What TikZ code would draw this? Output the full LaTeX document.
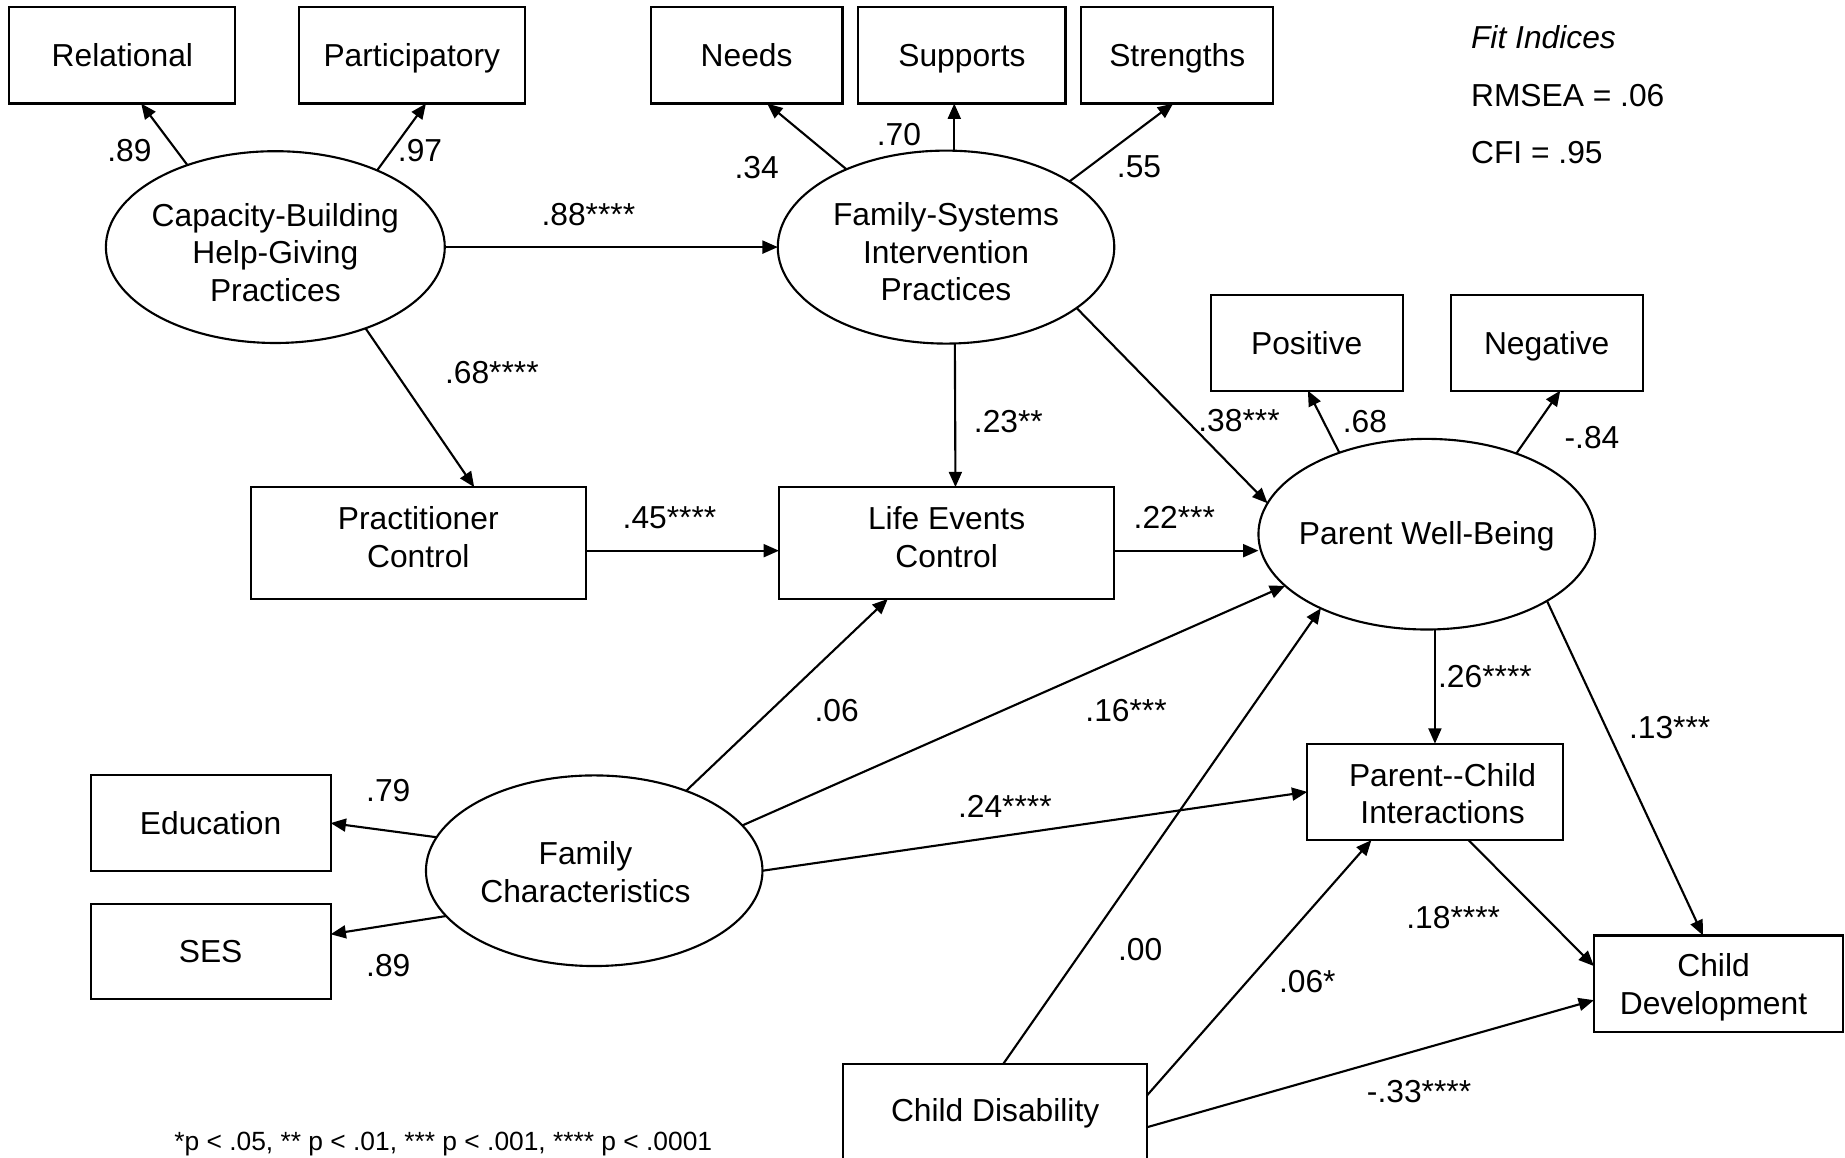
\documentclass[tikz,border=0pt]{standalone}
\usepackage{fontspec}
\setmainfont{Liberation Sans}
\usetikzlibrary{arrows.meta,shapes.geometric}
\begin{document}
\begin{tikzpicture}[x=1pt,y=-1pt,
  every node/.style={font=\fontsize{27}{32}\selectfont},
  obs/.style={draw, line width=1.8pt, rectangle, inner sep=0pt, outer sep=0pt, align=center},
  ind/.style={obs, text height=19.5pt, text depth=0pt},
  lat/.style={draw, line width=1.8pt, ellipse, inner sep=0pt, outer sep=0pt},
  arr/.style={line width=1.8pt, -{Triangle[length=13pt,width=11pt]}},
  coef/.style={inner sep=0pt},
  fit/.style={inner sep=0pt, anchor=west},
]
\useasboundingbox (0,0) rectangle (1568,984);

% indicator boxes
\node[ind, minimum width=192pt, minimum height=82pt] (rel) at (104,47) {Relational};
\node[ind, minimum width=192pt, minimum height=82pt] (par) at (350,47) {Participatory};
\node[ind, minimum width=163pt, minimum height=82pt] (needs) at (634.5,47) {Needs};
\node[ind, minimum width=176pt, minimum height=82pt] (sup) at (817.5,47) {Supports};
\node[ind, minimum width=163pt, minimum height=82pt] (str) at (1000.5,47) {Strengths};
\node[ind, minimum width=163pt, minimum height=81pt] (pos) at (1110.5,291.5) {Positive};
\node[ind, minimum width=163pt, minimum height=81pt] (neg) at (1314.5,291.5) {Negative};
\node[ind, minimum width=204pt, minimum height=81pt] (edu) at (179,699.5) {Education};
\node[ind, minimum width=204pt, minimum height=81pt] (ses) at (179,808.5) {SES};

% latent variables
\node[lat, minimum width=288pt, minimum height=163pt,
  label={[align=center, yshift=-4.5pt]center:Capacity-Building\\Help-Giving\\Practices}] (cap) at (234,210) {};
\node[lat, minimum width=286pt, minimum height=164pt,
  label={[align=center, yshift=-4pt]center:Family-Systems\\Intervention\\Practices}] (fs) at (804,210) {};
\node[lat, minimum width=286pt, minimum height=162pt,
  label={[text height=19.5pt, text depth=0pt, yshift=1pt]center:Parent Well-Being}] (pwb) at (1212.5,454) {};
\node[lat, minimum width=286pt, minimum height=162pt,
  label={[align=center, xshift=-7.5pt, yshift=-1pt]center:Family\\Characteristics}] (fc) at (505,740) {};

% other observed variables
\node[obs, minimum width=285pt, minimum height=95pt,
  label={[align=center, yshift=5pt]center:Practitioner\\Control}] (pc) at (355.5,461.5) {};
\node[obs, minimum width=285pt, minimum height=95pt,
  label={[align=center, yshift=5pt]center:Life Events\\Control}] (le) at (804.5,461.5) {};
\node[obs, minimum width=217pt, minimum height=82pt,
  label={[align=center, xshift=6.5pt, yshift=-1.5pt]center:Parent-{}-Child\\Interactions}] (pci) at (1219.5,673) {};
\node[obs, minimum width=211.4pt, minimum height=82pt,
  label={[align=center, xshift=-4pt, yshift=-3pt]center:Child\\Development}] (cdev) at (1460.3,836) {};
\node[obs, minimum width=258pt, minimum height=86pt,
  label={[text height=19.5pt, text depth=0pt, yshift=4pt]center:Child Disability}] (cd) at (845.75,947) {};

% connectors
\draw[arr] (cap.137.7) -- ([xshift=16pt]rel.south);
\draw[arr] (cap.37.5) -- ([xshift=12pt]par.south);
\draw[arr] (cap.east) -- (fs.west);
\draw[arr] (cap.-42.7) -- ([xshift=47.5pt]pc.north);
\draw[arr] (fs.142.6) -- ([xshift=17.5pt]needs.south);
\draw[arr] ([xshift=7pt]fs.north) -- ([xshift=-6.5pt]sup.south);
\draw[arr] (fs.28.3) -- ([xshift=-3.5pt]str.south);
\draw[arr] ([xshift=7.5pt]fs.south) -- ([xshift=7.5pt]le.north);
\draw[arr] (fs.-25.2) -- (pwb.169);
\draw[arr] ([yshift=-6.5pt]pc.east) -- ([yshift=-6.5pt]pc.east -| le.west);
\draw[arr] ([yshift=-6.5pt]le.east) -- ([yshift=-6.5pt]le.east -| pwb.west);
\draw[arr] (pwb.137.5) -- ([xshift=1pt]pos.south);
\draw[arr] (pwb.42.6) -- ([xshift=11.5pt]neg.south);
\draw[arr] ([xshift=7pt]pwb.south) -- (pci.north);
\draw[arr] (pwb.-29.5) -- ([xshift=-13pt]cdev.north);
\draw[arr] ([xshift=28.5pt]pci.south) -- ([yshift=15pt]cdev.west);
\draw[arr] (fc.168.2) -- (edu.east);
\draw[arr] (fc.197.6) -- ([yshift=14.5pt]ses.east);
\draw[arr] (fc.41.9) -- ([xshift=-50pt]le.south);
\draw[arr] (fc.17.5) -- (pwb.200);
\draw[arr] (fc.east) -- (pci.west);
\draw[arr] ([xshift=7pt]cd.north) -- (pwb.215);
\draw[arr] ([yshift=16pt]cd.east) -- ([xshift=-54pt]pci.south);
\draw[arr] ([yshift=-11pt]cd.east) -- ([yshift=-14pt]cdev.west);

% coefficients
\node[coef] (c1) at (110,128) {.89};
\node[coef] (c2) at (357,128) {.97};
\node[coef] (c3) at (500,182) {.88****};
\node[coef] (c4) at (418,317) {.68****};
\node[coef] (c5) at (643,142) {.34};
\node[coef] (c6) at (764,114) {.70};
\node[coef] (c7) at (968,142) {.55};
\node[coef] (c8) at (857,358) {.23**};
\node[coef] (c9) at (1053,357) {.38***};
\node[coef] (c10) at (1160,358) {.68};
\node[coef] (c11) at (1353,372) {-.84};
\node[coef] (c12) at (569,440) {.45****};
\node[coef] (c13) at (998,440) {.22***};
\node[coef] (c14) at (711,604) {.06};
\node[coef] (c15) at (957,604) {.16***};
\node[coef] (c16) at (1262,575) {.26****};
\node[coef] (c17) at (1419,618) {.13***};
\node[coef] (c18) at (330,672) {.79};
\node[coef] (c19) at (854,685) {.24****};
\node[coef] (c20) at (1235,780) {.18****};
\node[coef] (c21) at (969,807) {.00};
\node[coef] (c22) at (330,821) {.89};
\node[coef] (c23) at (1111,834) {.06*};
\node[coef] (c24) at (1206,928) {-.33****};

% fit indices
\node[fit] (f1) at (1250,32) {\itshape Fit Indices};
\node[fit] (f2) at (1250,81) {RMSEA = .06};
\node[fit] (f3) at (1250,130) {CFI = .95};

% footnote
\node[inner sep=0pt, anchor=base west, font=\fontsize{22.4}{26}\selectfont] (note) at (148,978) {*p < .05, ** p < .01, *** p < .001, **** p < .0001};
\end{tikzpicture}
\end{document}
